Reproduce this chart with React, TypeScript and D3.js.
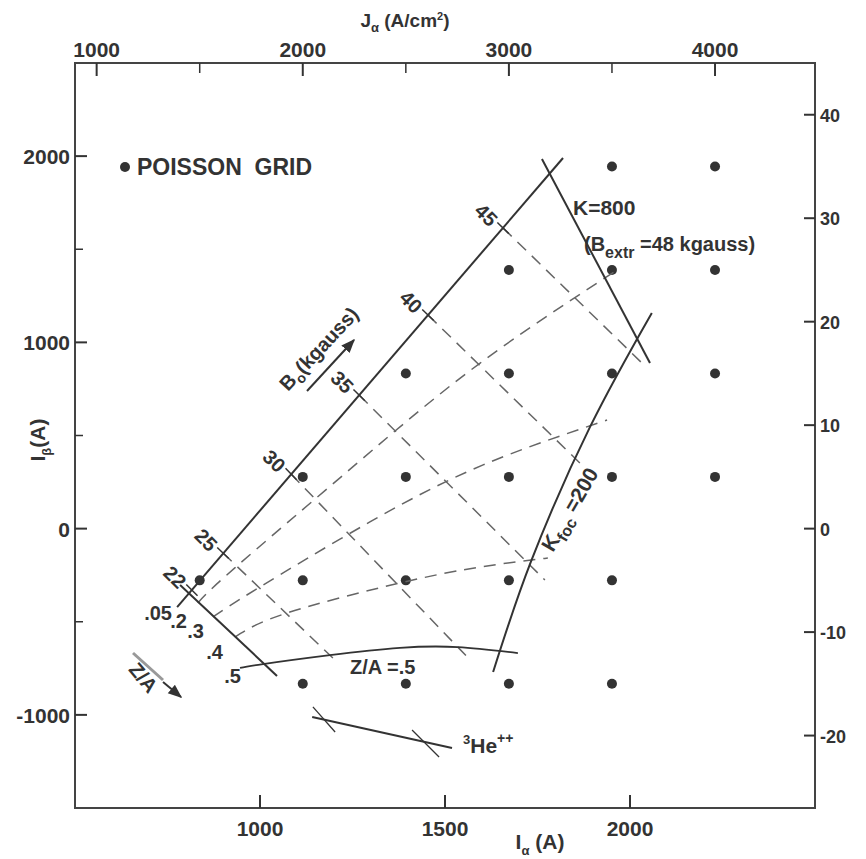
import React from "react";
import * as d3 from "d3";

const W = 866;
const H = 859;
const frame = { left: 75, right: 815, top: 63, bottom: 808 };

// bottom axis: I_alpha (A)
const iAlphaDomain = [500, 2500];
const iAlphaTicks = [1000, 1500, 2000];
// left axis: I_beta (A)
const iBetaDomain = [-1500, 2500];
const iBetaMajor = [-1000, 0, 1000, 2000];
const iBetaMinor = [-500, 500, 1500];
// top axis: J_alpha (A/cm2)
const jDomain = [895, 4485];
const jMajor = [1000, 2000, 3000, 4000];
const jMinor = [1500, 2500, 3500];
// right axis
const rightDomain = [-27, 45];
const rightTicks = [-20, -10, 0, 10, 20, 30, 40];

// Poisson grid points: rows on right axis, columns in J_alpha
const gridRows = [35, 25, 15, 5, -5, -15];
const gridCols = [
  [3500, 4000],
  [3000, 3500, 4000],
  [2500, 3000, 3500, 4000],
  [2000, 2500, 3000, 3500, 4000],
  [1500, 2000, 2500, 3000, 3500],
  [2000, 2500, 3000, 3500],
];

// B0 axis line (Z/A = .05 boundary), in (I_alpha, I_beta)
const b0AxisIA = [776, 1819];
const b0AxisIB = [-421, 1990];
// B0 = const lines: tick on the B0 axis, dashed end
const b0Values = [22, 25, 30, 35, 40, 45];
const b0TickIA = [816, 900, 1084, 1268, 1454, 1657];
const b0TickIB = [-330, -131, 293, 717, 1147, 1614];
const b0EndIA = [1046, 1197, 1568, 1770, 1873, 2035];
const b0EndIB = [-791, -695, -705, -276, 336, 884];
const b0StartIA22 = 784;
const b0StartIB22 = -303;

// Z/A = const curves
const za02IA = [832, 932, 1257, 1595, 1973];
const za02IB = [-399, -211, 342, 889, 1399];
const za03IA = [873, 995, 1297, 1603, 1938];
const za03IB = [-474, -319, 36, 342, 583];
const za04IA = [932, 1073, 1378, 1595, 1778];
const za04IB = [-582, -453, -292, -206, -158];
const za05IA = [946, 1008, 1189, 1378, 1535, 1697];
const za05IB = [-748, -727, -679, -640, -636, -668];

// K limits
const k800IA = [1762, 2054];
const k800IB = [1985, 889];
const kfocIA = [2059, 1892, 1732, 1630];
const kfocIB = [1158, 546, -179, -770];

// 3He++ line and its ticks
const heIA = [1141, 1519];
const heIB = [-1011, -1178];
const heTick1IA = [1143, 1203];
const heTick1IB = [-957, -1092];
const heTick2IA = [1411, 1484];
const heTick2IB = [-1081, -1226];

const FONT = "'Liberation Sans', Arial, sans-serif";
const INK = "#333";

export default function App() {
  const x = d3.scaleLinear().domain(iAlphaDomain).range([frame.left, frame.right]);
  const y = d3.scaleLinear().domain(iBetaDomain).range([frame.bottom, frame.top]);
  const xJ = d3.scaleLinear().domain(jDomain).range([frame.left, frame.right]);
  const yR = d3.scaleLinear().domain(rightDomain).range([frame.bottom, frame.top]);

  const pts = (ia: number[], ib: number[]) => ia.map((v, i) => [v, ib[i]] as [number, number]);
  const straight = d3.line<[number, number]>().x(d => x(d[0])).y(d => y(d[1]));
  const smooth = d3
    .line<[number, number]>()
    .x(d => x(d[0]))
    .y(d => y(d[1]))
    .curve(d3.curveNatural);

  const dashed = { fill: "none", stroke: "#666", strokeWidth: 1.5, strokeDasharray: "12 8" };
  const solid = { fill: "none", stroke: INK, strokeWidth: 2 };

  const txt = { fontFamily: FONT, fontWeight: 700, fill: INK } as const;

  return (
    <svg
      width={W}
      height={H}
      style={{ position: "absolute", left: 0, top: 0, background: "#fff" }}
    >
      <defs>
        <marker id="arr" viewBox="0 0 10 10" refX="9" refY="5" markerWidth="7" markerHeight="7" orient="auto">
          <path d="M0,1 L10,5 L0,9 z" fill={INK} />
        </marker>
      </defs>

      {/* frame */}
      <rect
        x={frame.left}
        y={frame.top}
        width={frame.right - frame.left}
        height={frame.bottom - frame.top}
        fill="none"
        stroke="#444"
        strokeWidth={2}
      />

      {/* bottom axis */}
      {iAlphaTicks.map(t => (
        <g key={"b" + t}>
          <line x1={x(t)} x2={x(t)} y1={frame.bottom} y2={frame.bottom - 13} stroke={INK} strokeWidth={2} />
          <text x={x(t)} y={836} textAnchor="middle" fontSize={21} {...txt}>
            {t}
          </text>
        </g>
      ))}
      <text x={540} y={849} textAnchor="middle" fontSize={21} {...txt}>
        I<tspan fontSize={13} dy={6}>α</tspan>
        <tspan dy={-6}> (A)</tspan>
      </text>

      {/* left axis */}
      {iBetaMajor.map(t => (
        <g key={"l" + t}>
          <line x1={frame.left} x2={frame.left + 12} y1={y(t)} y2={y(t)} stroke={INK} strokeWidth={2} />
          <text x={frame.left - 5} y={y(t) + 8} textAnchor="end" fontSize={21} {...txt}>
            {t}
          </text>
        </g>
      ))}
      {iBetaMinor.map(t => (
        <line key={"lm" + t} x1={frame.left} x2={frame.left + 8} y1={y(t)} y2={y(t)} stroke={INK} strokeWidth={1.5} />
      ))}
      <text transform="translate(45,440) rotate(-90)" textAnchor="middle" fontSize={21} {...txt}>
        I<tspan fontSize={13} dy={6}>β</tspan>
        <tspan dy={-6}>(A)</tspan>
      </text>

      {/* top axis */}
      {jMajor.map(t => (
        <g key={"t" + t}>
          <line x1={xJ(t)} x2={xJ(t)} y1={frame.top} y2={frame.top + 13} stroke={INK} strokeWidth={2} />
          <text x={xJ(t)} y={57} textAnchor="middle" fontSize={21} {...txt}>
            {t}
          </text>
        </g>
      ))}
      {jMinor.map(t => (
        <line key={"tm" + t} x1={xJ(t)} x2={xJ(t)} y1={frame.top} y2={frame.top + 10} stroke={INK} strokeWidth={1.5} />
      ))}
      <text x={405} y={27} textAnchor="middle" fontSize={19} {...txt}>
        J<tspan fontSize={13} dy={5}>α</tspan>
        <tspan dy={-5}> (A/cm</tspan>
        <tspan fontSize={11} dy={-7}>2</tspan>
        <tspan dy={7}>)</tspan>
      </text>

      {/* right axis */}
      {rightTicks.map(t => (
        <g key={"r" + t}>
          <line x1={frame.right - 11} x2={frame.right} y1={yR(t)} y2={yR(t)} stroke={INK} strokeWidth={2} />
          <text x={frame.right + 5} y={yR(t) + 7} fontSize={18} {...txt}>
            {t}
          </text>
        </g>
      ))}

      {/* Poisson grid */}
      {gridRows.map((r, i) =>
        gridCols[i].map(c => <circle key={r + "_" + c} cx={xJ(c)} cy={yR(r)} r={5} fill="#333" />)
      )}
      <circle cx={125} cy={167} r={5} fill="#333" />
      <text x={137} y={175} fontSize={23} {...txt} style={{ whiteSpace: "pre" }}>
        POISSON  GRID
      </text>

      {/* B0 = const dashed lines */}
      {b0Values.map((b, i) => {
        const seg = pts([b0TickIA[i], b0EndIA[i]], [b0TickIB[i], b0EndIB[i]]);
        if (b === 22) return null;
        return <path key={"bd" + b} d={straight(seg) || ""} {...dashed} />;
      })}
      {/* B0 ticks on axis */}
      {b0Values.map((b, i) => {
        const px = x(b0TickIA[i]);
        const py = y(b0TickIB[i]);
        const ex = x(b0EndIA[i]) - px;
        const ey = y(b0EndIB[i]) - py;
        const len = Math.hypot(ex, ey);
        const ux = ex / len;
        const uy = ey / len;
        return (
          <g key={"bt" + b}>
            <line x1={px - ux * 8} y1={py - uy * 8} x2={px + ux * 8} y2={py + uy * 8} stroke={INK} strokeWidth={1.5} />
            <text
              transform={`translate(${px - 17},${py - 13}) rotate(45)`}
              textAnchor="middle"
              dy={7}
              fontSize={20}
              {...txt}
            >
              {b}
            </text>
          </g>
        );
      })}

      {/* Z/A dashed curves */}
      <path d={smooth(pts(za02IA, za02IB)) || ""} {...dashed} />
      <path d={smooth(pts(za03IA, za03IB)) || ""} {...dashed} />
      <path d={smooth(pts(za04IA, za04IB)) || ""} {...dashed} />
      <path d={smooth(pts(za05IA, za05IB)) || ""} {...solid} strokeWidth={1.8} />

      {/* boundaries */}
      <path d={straight(pts(b0AxisIA, b0AxisIB)) || ""} {...solid} />
      <path d={straight(pts([b0StartIA22, b0EndIA[0]], [b0StartIB22, b0EndIB[0]])) || ""} {...solid} />
      <path d={straight(pts(k800IA, k800IB)) || ""} {...solid} />
      <path d={smooth(pts(kfocIA, kfocIB)) || ""} {...solid} />

      {/* 3He++ */}
      <path d={straight(pts(heIA, heIB)) || ""} {...solid} />
      <path d={straight(pts(heTick1IA, heTick1IB)) || ""} {...solid} strokeWidth={1.3} />
      <path d={straight(pts(heTick2IA, heTick2IB)) || ""} {...solid} strokeWidth={1.3} />
      <text x={463} y={753} fontSize={21} {...txt}>
        <tspan fontSize={13} dy={-9}>3</tspan>
        <tspan dy={9}>He</tspan>
        <tspan fontSize={14} dy={-10}>++</tspan>
      </text>

      {/* Z/A labels */}
      <text x={172} y={620} textAnchor="end" fontSize={20} {...txt}>.05</text>
      <text x={187} y={628} textAnchor="end" fontSize={20} {...txt}>.2</text>
      <text x={204} y={638} textAnchor="end" fontSize={20} {...txt}>.3</text>
      <text x={223} y={659} textAnchor="end" fontSize={20} {...txt}>.4</text>
      <text x={241} y={683} textAnchor="end" fontSize={20} {...txt}>.5</text>
      <text x={350} y={674} fontSize={20} {...txt} style={{ whiteSpace: "pre" }}>
        Z/A =.5
      </text>

      {/* Z/A direction label */}
      <line x1={133} y1={653} x2={163} y2={680} stroke="#999" strokeWidth={3} />
      <text transform="translate(138,682) rotate(50)" textAnchor="middle" fontSize={20} {...txt}>
        Z/A
      </text>
      <line x1={163} y1={682} x2={181} y2={697} stroke={INK} strokeWidth={2} markerEnd="url(#arr)" />

      {/* B0 label */}
      <text transform="translate(288,392) rotate(-47)" fontSize={20} {...txt}>
        B<tspan fontSize={14} dy={5}>o</tspan>
        <tspan dy={-5}>(kgauss)</tspan>
      </text>
      <line x1={307} y1={391} x2={354} y2={340} stroke={INK} strokeWidth={2} markerEnd="url(#arr)" />

      {/* K labels */}
      <text x={573} y={215} fontSize={21} {...txt}>K=800</text>
      <text x={584} y={251} fontSize={20} {...txt} style={{ whiteSpace: "pre" }}>
        (B<tspan fontSize={16} dy={7}>extr</tspan>
        <tspan dy={-7}> =48 kgauss)</tspan>
      </text>
      <text transform="translate(553,553) rotate(-60)" fontSize={21} {...txt}>
        K<tspan fontSize={16} dy={6}>foc</tspan>
        <tspan dy={-6}> =200</tspan>
      </text>
    </svg>
  );
}
